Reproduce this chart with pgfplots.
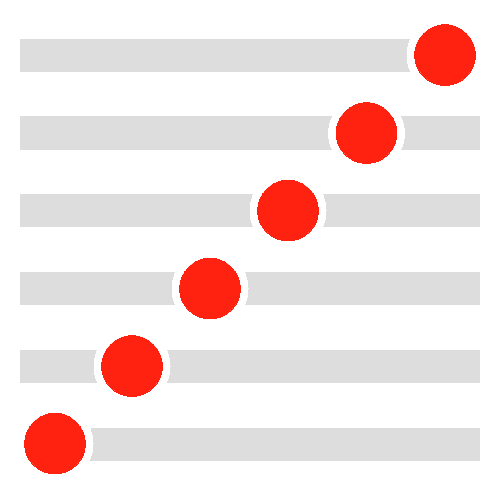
\documentclass[border=0pt]{standalone}
\usepackage{pgfplots}
\pgfplotsset{compat=1.18}
\definecolor{bargray}{HTML}{DDDDDD}
\definecolor{dotred}{HTML}{FF2211}
\begin{document}
\begin{tikzpicture}
\begin{axis}[
  width=500pt, height=500pt, scale only axis,
  xmin=0, xmax=500, ymin=0, ymax=500, y dir=reverse,
  hide axis, clip=false,
]
\addplot[bargray, line width=33pt, line cap=butt] coordinates {(20,55.5) (480,55.5)};
\addplot[bargray, line width=33pt, line cap=butt] coordinates {(20,133) (480,133)};
\addplot[bargray, line width=33pt, line cap=butt] coordinates {(20,210.5) (480,210.5)};
\addplot[bargray, line width=33pt, line cap=butt] coordinates {(20,288) (480,288)};
\addplot[bargray, line width=33pt, line cap=butt] coordinates {(20,366) (480,366)};
\addplot[bargray, line width=33pt, line cap=butt] coordinates {(20,444.5) (480,444.5)};
\addplot[white, only marks, mark=*, mark size=38pt, mark options={line width=0pt, draw=white, fill=white}]
  coordinates {(445,55) (366.5,133) (288,210.5) (210,288.5) (132,366) (55,443.5)};
\addplot[dotred, only marks, mark=*, mark size=30.3pt, mark options={line width=0pt, draw=dotred, fill=dotred}]
  coordinates {(445,55) (366.5,133) (288,210.5) (210,288.5) (132,366) (55,443.5)};
\end{axis}
\path (current axis.south west) rectangle (current axis.north east);
\end{tikzpicture}
\end{document}
